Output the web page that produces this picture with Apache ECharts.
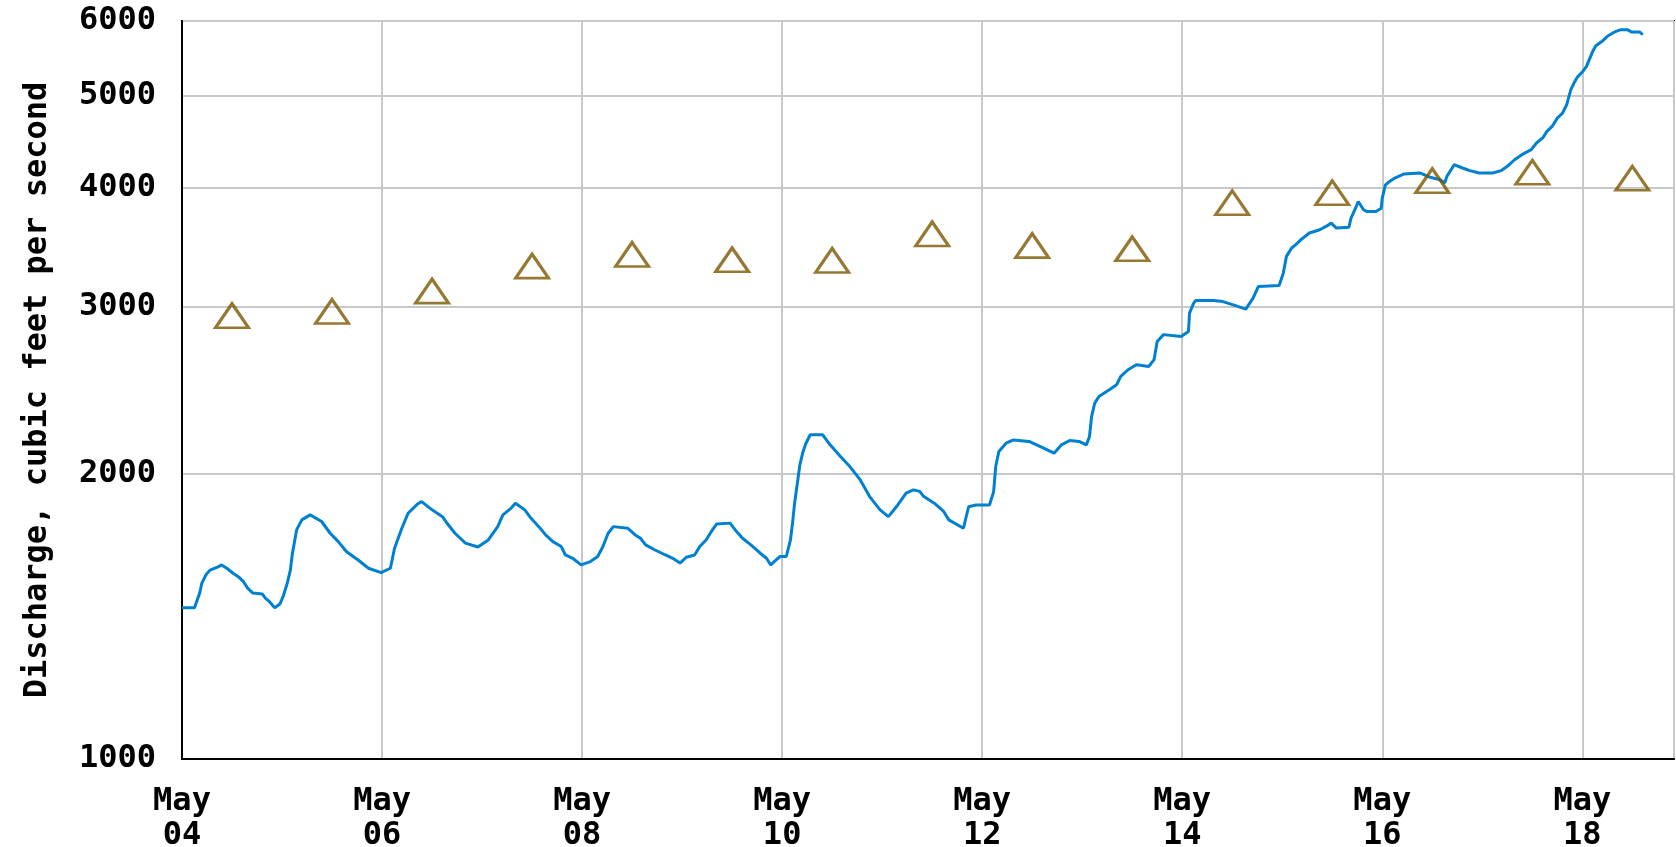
<!DOCTYPE html>
<html><head><meta charset="utf-8">
<script src="https://cdn.jsdelivr.net/npm/echarts@6/dist/echarts.min.js"></script>
<style>html,body{margin:0;padding:0;background:#fff}#c{width:1676px;height:847px}</style>
</head><body><div id="c"></div>
<script>
// Year assumed (axis labels show only month/day)
const year = 2022;
const times = [
'05-04 00:00','05-04 03:00','05-04 03:30','05-04 04:15','05-04 04:45','05-04 05:45','05-04 06:45','05-04 08:30','05-04 09:30','05-04 10:45',
'05-04 12:15','05-04 13:30','05-04 14:45','05-04 15:45','05-04 17:00','05-04 19:15','05-04 20:00','05-04 21:00','05-04 22:15','05-04 23:30',
'05-05 00:15','05-05 01:15','05-05 02:00','05-05 02:30','05-05 03:00','05-05 03:30','05-05 04:45','05-05 06:45','05-05 09:30','05-05 11:30',
'05-05 13:30','05-05 15:30','05-05 18:15','05-05 20:45','05-05 23:45',
'05-06 02:00','05-06 03:00','05-06 04:45','05-06 06:15','05-06 08:30','05-06 09:30','05-06 12:00','05-06 14:30','05-06 15:45','05-06 17:30',
'05-06 20:00','05-06 23:00',
'05-07 01:30','05-07 03:45','05-07 05:00','05-07 07:00','05-07 08:00','05-07 10:15','05-07 11:45','05-07 14:00','05-07 15:15','05-07 17:00',
'05-07 19:00','05-07 20:00','05-07 21:45','05-07 23:45',
'05-08 02:00','05-08 03:45','05-08 05:00','05-08 06:15','05-08 07:30','05-08 11:00','05-08 12:45','05-08 14:00','05-08 15:15','05-08 17:30',
'05-08 20:00','05-08 21:45','05-08 23:30',
'05-09 01:00','05-09 03:00','05-09 04:15','05-09 05:45','05-09 07:00','05-09 08:15','05-09 11:30','05-09 12:45','05-09 14:30','05-09 16:30',
'05-09 18:45','05-09 20:15','05-09 21:15','05-09 22:30','05-09 23:30',
'05-10 01:00','05-10 02:00','05-10 02:30','05-10 03:00','05-10 04:15','05-10 05:00','05-10 05:45','05-10 06:45','05-10 09:45','05-10 11:30',
'05-10 14:00','05-10 16:15','05-10 18:45','05-10 21:00','05-10 23:30',
'05-11 01:30','05-11 03:45','05-11 05:45','05-11 07:30','05-11 09:00','05-11 10:00','05-11 12:30','05-11 14:45','05-11 16:00','05-11 19:30',
'05-11 20:45','05-11 22:30',
'05-12 01:45','05-12 02:45','05-12 03:15','05-12 04:00','05-12 05:45','05-12 07:30','05-12 11:15','05-12 14:45','05-12 17:15','05-12 19:00',
'05-12 21:00','05-12 23:15',
'05-13 01:00','05-13 01:45','05-13 02:15','05-13 03:00','05-13 04:00','05-13 06:30','05-13 08:15','05-13 09:15','05-13 11:00','05-13 13:00',
'05-13 16:00','05-13 17:15','05-13 18:00','05-13 19:30','05-13 23:45',
'05-14 01:30','05-14 01:45','05-14 02:45','05-14 03:15','05-14 07:30','05-14 09:45','05-14 12:15','05-14 15:15','05-14 17:00','05-14 18:15',
'05-14 23:15',
'05-15 00:15','05-15 01:00','05-15 02:15','05-15 03:15','05-15 04:30','05-15 06:30','05-15 09:00','05-15 10:30','05-15 11:45','05-15 13:00',
'05-15 16:00','05-15 16:30','05-15 17:45','05-15 18:15','05-15 19:30','05-15 20:15','05-15 22:30','05-15 23:45',
'05-16 00:00','05-16 00:45','05-16 01:45','05-16 03:00','05-16 05:15','05-16 09:00','05-16 11:15','05-16 13:45','05-16 15:00','05-16 15:30',
'05-16 16:30','05-16 17:15','05-16 19:15','05-16 21:00','05-16 23:15',
'05-17 02:30','05-17 04:30','05-17 06:00','05-17 07:45','05-17 09:30','05-17 11:45','05-17 13:00','05-17 14:30','05-17 15:30','05-17 16:45',
'05-17 18:00','05-17 19:15','05-17 20:15','05-17 21:15','05-17 22:00','05-17 22:45',
'05-18 00:00','05-18 01:00','05-18 02:00','05-18 02:30','05-18 03:15','05-18 04:45','05-18 06:00','05-18 07:45','05-18 09:15','05-18 10:45',
'05-18 11:45','05-18 13:45','05-18 14:30'
];
const discharge = [
1444,1444,1465,1496,1532,1564,1582,1593,1602,1589,
1570,1557,1538,1514,1496,1493,1478,1465,1444,1457,
1483,1532,1582,1648,1695,1744,1787,1809,1780,1731,
1695,1654,1621,1589,1572,
1589,1668,1751,1816,1857,1868,1831,1801,1769,1730,
1689,1673,
1702,1758,1809,1839,1861,1831,1794,1750,1723,1695,
1675,1641,1628,1602,
1615,1635,1675,1730,1758,1751,1723,1709,1682,1661,
1641,1628,1609,
1632,1641,1675,1702,1737,1769,1773,1744,1709,1682,
1648,1628,1602,1621,1635,
1635,1702,1773,1862,2042,2108,2154,2197,2197,2144,
2084,2034,1969,1891,1831,
1801,1853,1907,1922,1915,1891,1861,1824,1787,1751,
1845,1853,
1853,1914,2034,2110,2153,2170,2162,2127,2101,2144,
2167,2162,
2144,2188,2296,2372,2411,2451,2481,2532,2573,2604,
2594,2637,2756,2802,2790,
2824,2952,3025,3044,3044,3036,3012,2981,3062,3149,
3157,
3253,3388,3458,3486,3529,3586,3614,3644,3673,3629,
3637,3718,3824,3871,3794,3779,3779,3809,
3903,4031,4064,4098,4139,4149,4109,4082,4050,4115,
4182,4233,4199,4172,4149,
4149,4172,4216,4284,4337,4390,4462,4517,4590,4645,
4740,4798,4896,5078,5161,5232,
5301,5374,5506,5574,5651,5711,5781,5843,5875,5875,
5843,5843,5803
];
const medianTimes = ['05-04 12:00','05-05 12:00','05-06 12:00','05-07 12:00','05-08 12:00','05-09 12:00','05-10 12:00','05-11 12:00',
                     '05-12 12:00','05-13 12:00','05-14 12:00','05-15 12:00','05-16 12:00','05-17 12:00','05-18 12:00'];
const medianValues = [2934,2964,3114,3309,3404,3360,3355,3578,3478,3451,3859,3954,4072,4156,4096];
const yTicks = [1000,2000,3000,4000,5000,6000];
const monthNames = ['Jan','Feb','Mar','Apr','May','Jun','Jul','Aug','Sep','Oct','Nov','Dec'];
const yTitle = 'Discharge, cubic feet per second';

function toMs(s){
  const m = +s.slice(0,2), d = +s.slice(3,5), h = +s.slice(6,8), mi = +s.slice(9,11);
  return Date.UTC(year, m-1, d, h, mi);
}
const DAY = 86400000;
const xMin = Date.UTC(year,4,4,0,0);
const xMax = Date.UTC(year,4,18,22,0);
const FONT = '"DejaVu Sans Mono", "Liberation Mono", monospace';

const chart = echarts.init(document.getElementById('c'), null, {renderer:'canvas'});
chart.setOption({
  animation:false,
  backgroundColor:'#fff',
  grid:{left:182, right:2, top:21, bottom:88, containLabel:false, outerBoundsMode:'none',
        show:true, borderColor:'#000', borderWidth:2, backgroundColor:'transparent'},
  xAxis:{
    type:'value', min:xMin, max:xMax, interval:2*DAY,
    axisLine:{show:true, lineStyle:{color:'#000', width:2}},
    axisTick:{show:false},
    splitLine:{show:true, lineStyle:{color:'#c8c8c8', width:2}},
    axisLabel:{
      showMaxLabel:false, margin:26, lineHeight:34,
      fontFamily:FONT, fontWeight:'bold', fontSize:32, color:'#000',
      formatter:function(v){ const d=new Date(v); const dd=d.getUTCDate(); return monthNames[d.getUTCMonth()]+'\n'+(dd<10?'0'+dd:dd); }
    }
  },
  yAxis:{
    type:'log', logBase:10, min:1000, max:6000,
    name:yTitle, nameLocation:'middle', nameRotate:90, nameGap:128,
    nameTextStyle:{fontFamily:FONT, fontWeight:'bold', fontSize:32, color:'#000'},
    axisLine:{show:true, lineStyle:{color:'#000', width:2}},
    axisTick:{show:false, customValues:yTicks},
    splitLine:{show:true, lineStyle:{color:'#c8c8c8', width:2}},
    axisLabel:{customValues:yTicks, margin:26, fontFamily:FONT, fontWeight:'bold', fontSize:32, color:'#000',
      formatter:function(v){ return String(Math.round(v)); }}
  },
  series:[
    {type:'line', data:times.map((t,i)=>[toMs(t), discharge[i]]), showSymbol:false, symbol:'none',
     lineStyle:{color:'#0080d0', width:3}, z:3},
    {type:'scatter', data:medianTimes.map((t,i)=>[toMs(t), medianValues[i]]), symbol:'triangle', symbolSize:[33,24],
     itemStyle:{color:'rgba(0,0,0,0)', borderColor:'#7a5800', borderWidth:3}, z:4}
  ]
});
</script></body></html>
